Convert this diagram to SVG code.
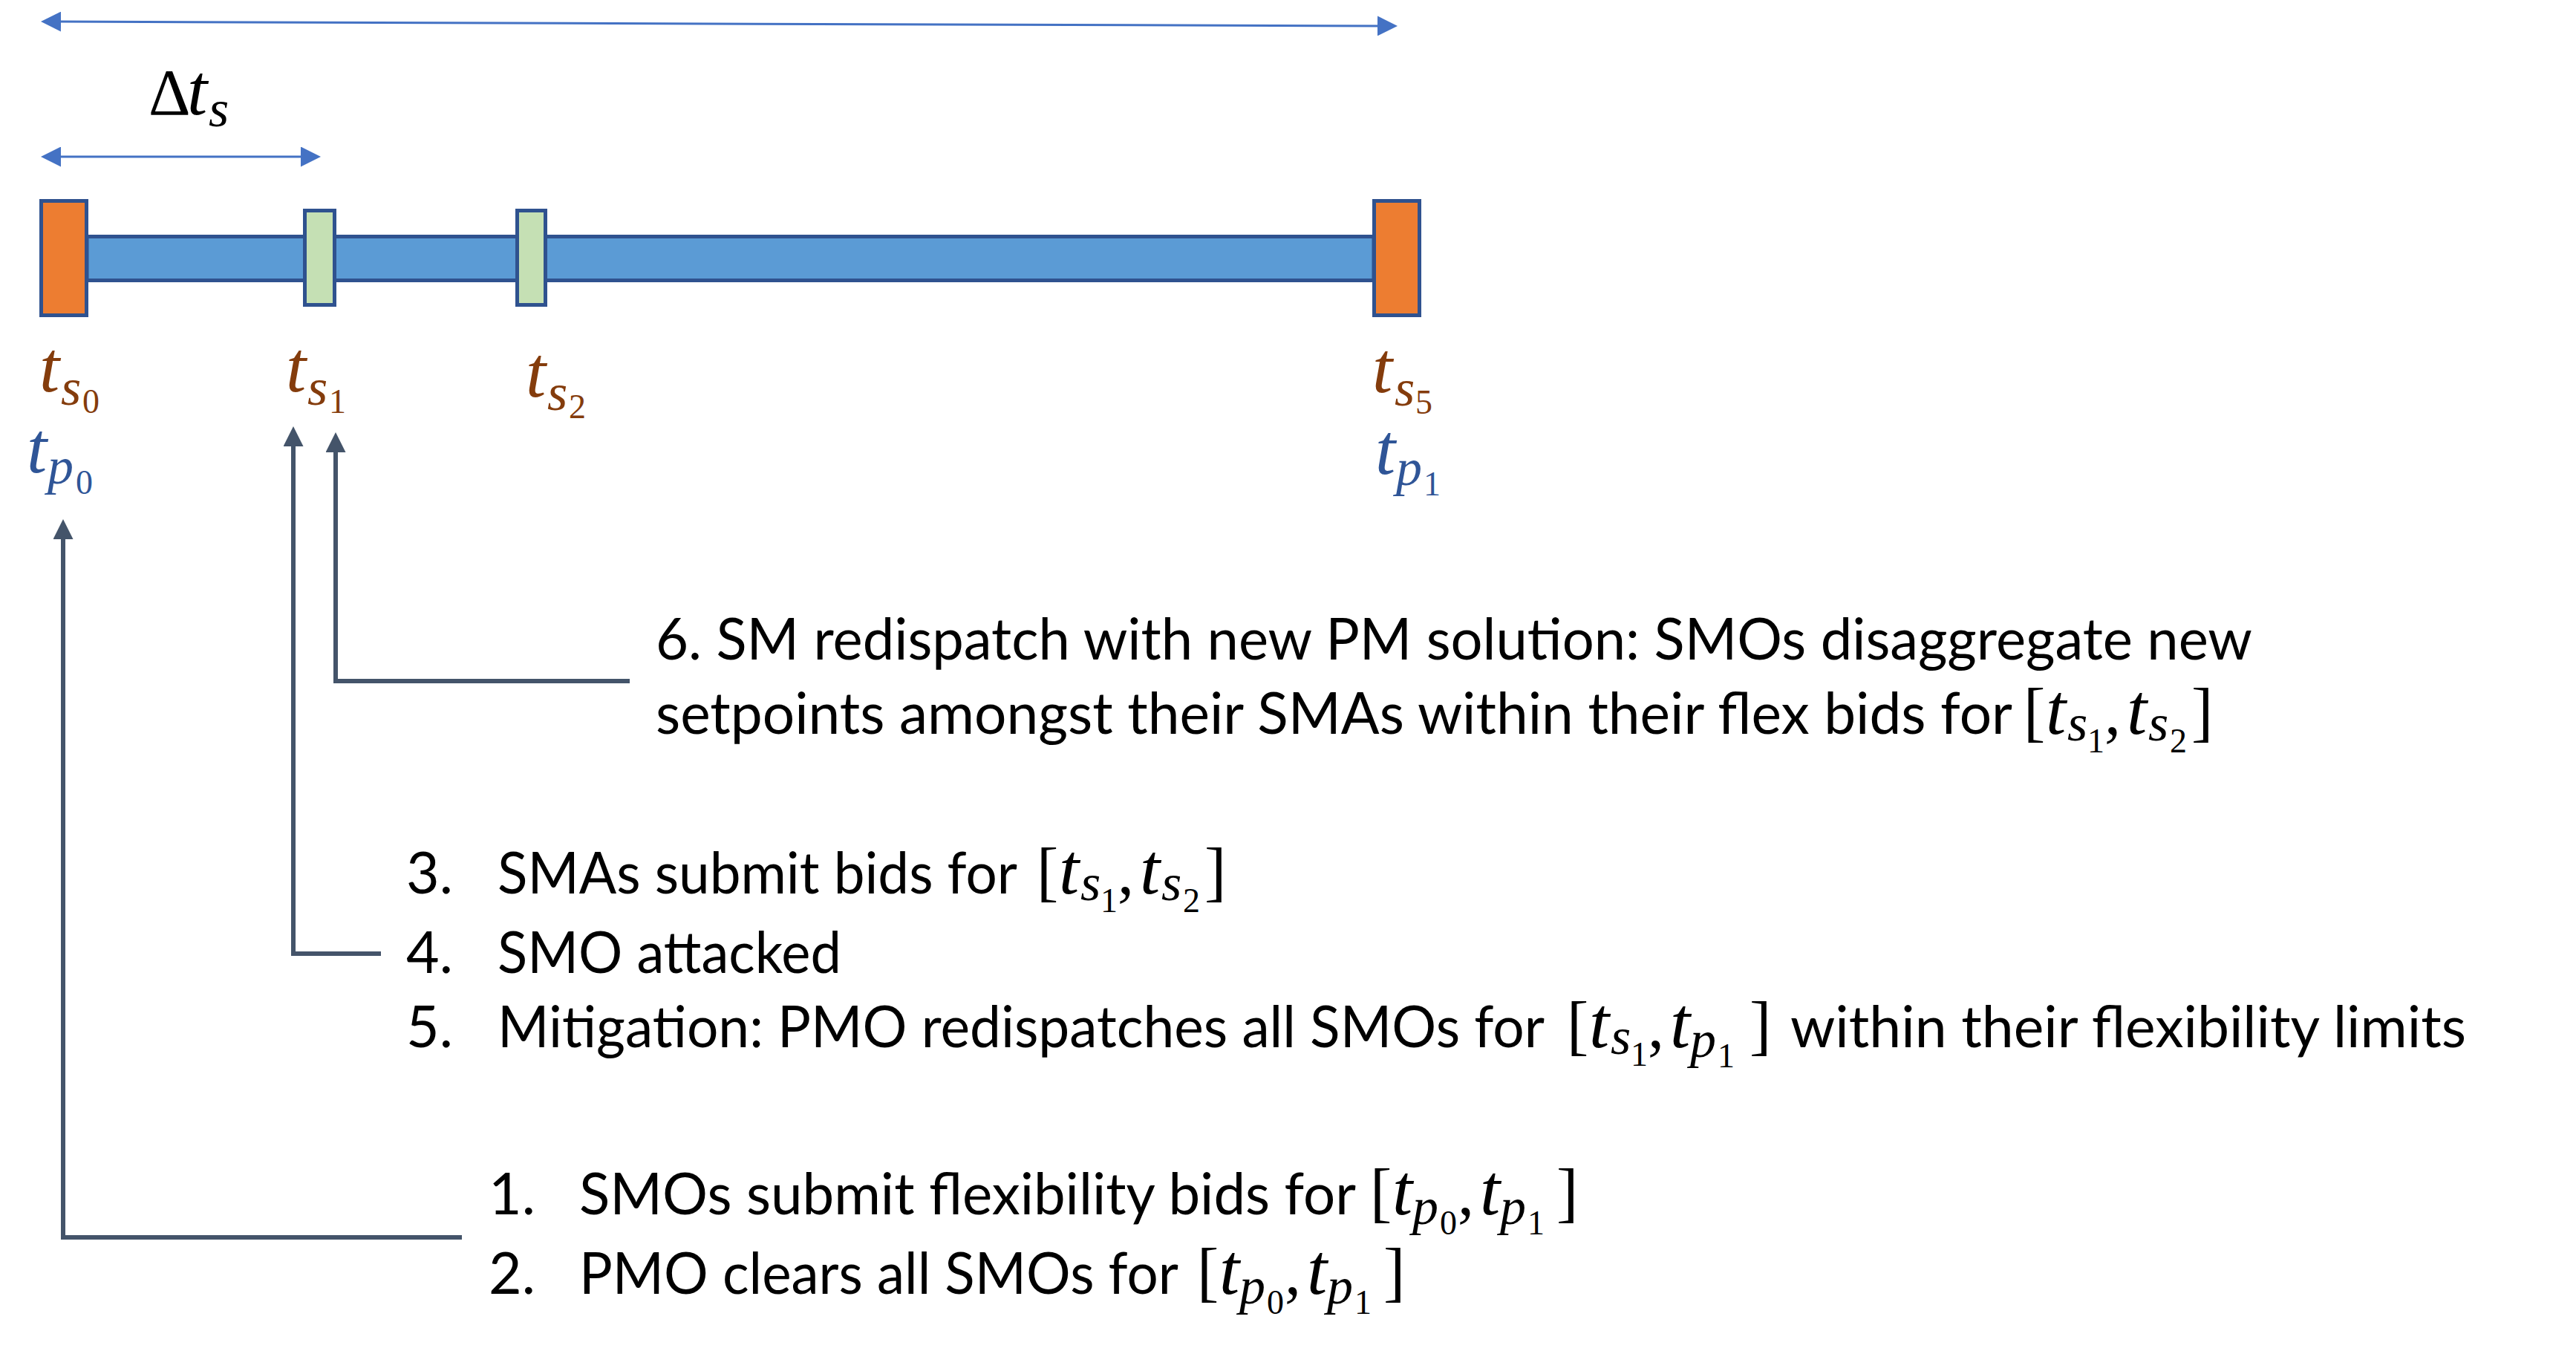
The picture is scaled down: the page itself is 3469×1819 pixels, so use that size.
<svg xmlns="http://www.w3.org/2000/svg" width="3469" height="1819" viewBox="0 0 3469 1819">
<style>
.tx{font-family:Lato,"Liberation Sans",sans-serif;font-size:77px;fill:#000}
.mt{font-family:"Liberation Serif",serif;font-style:italic;font-size:98px}
.mb{font-family:"Liberation Serif",serif;font-style:normal;font-size:88px}
.ms{font-family:"Liberation Serif",serif;font-style:italic;font-size:70px}
.md{font-family:"Liberation Serif",serif;font-style:normal;font-size:46px}
.brown{fill:#843C0C}
.blue{fill:#2F5597}
.blk{fill:#000}
.or{fill:#ED7D31;stroke:#2F528F;stroke-width:5}
.gr{fill:#C5E0B4;stroke:#2F528F;stroke-width:5}
.bar{fill:#5B9BD5;stroke:#2F528F;stroke-width:5}
.conn{fill:none;stroke:#44546A;stroke-width:6;marker-end:url(#ah)}
.dim{fill:none;stroke:#4472C4;stroke-width:3;marker-start:url(#bh);marker-end:url(#bh)}
</style>
<defs>
<marker id="ah" markerUnits="userSpaceOnUse" markerWidth="27" markerHeight="27" refX="7" refY="13.5" orient="auto"><path d="M0,0 L27,13.5 L0,27 z" fill="#44546A"/></marker>
<marker id="bh" markerUnits="userSpaceOnUse" markerWidth="27" markerHeight="27" refX="7" refY="13.5" orient="auto-start-reverse"><path d="M0,0 L27,13.5 L0,27 z" fill="#4472C4"/></marker>
</defs>

<g id="dimensions">
<path class="dim" d="M75,29.1 L1862,34.9"/>
<path class="dim" d="M75,211 L412,211"/>
<text id="delta-ts" class="blk"><tspan class="mb" x="200" y="154">Δ</tspan><tspan class="mt" x="252" y="154">t</tspan><tspan class="ms" x="281" y="170">s</tspan></text>
</g>

<g id="timeline">
<rect class="bar" x="117" y="318.5" width="1733" height="59"/>
<rect id="ts0-block" class="or" x="55.5" y="270.5" width="61" height="154"/>
<rect id="ts1-block" class="gr" x="410.5" y="283.5" width="40" height="127"/>
<rect id="ts2-block" class="gr" x="696.5" y="283.5" width="38" height="127"/>
<rect id="ts5-block" class="or" x="1850.5" y="270.5" width="61" height="154"/>
</g>

<g id="time-labels">
<text id="lbl-ts0" class="brown"><tspan class="mt" x="53" y="527">t</tspan><tspan class="ms" x="82" y="545">s</tspan><tspan class="md" x="111" y="556">0</tspan></text>
<text id="lbl-ts1" class="brown"><tspan class="mt" x="385" y="527">t</tspan><tspan class="ms" x="414" y="545">s</tspan><tspan class="md" x="443" y="556">1</tspan></text>
<text id="lbl-ts2" class="brown"><tspan class="mt" x="708" y="534">t</tspan><tspan class="ms" x="737" y="552">s</tspan><tspan class="md" x="766" y="563">2</tspan></text>
<text id="lbl-ts5" class="brown"><tspan class="mt" x="1848" y="528">t</tspan><tspan class="ms" x="1878" y="546">s</tspan><tspan class="md" x="1906" y="557">5</tspan></text>
<text id="lbl-tp0" class="blue"><tspan class="mt" x="36" y="636">t</tspan><tspan class="ms" x="64" y="651">p</tspan><tspan class="md" x="102" y="665">0</tspan></text>
<text id="lbl-tp1" class="blue"><tspan class="mt" x="1852" y="638">t</tspan><tspan class="ms" x="1880" y="653">p</tspan><tspan class="md" x="1917" y="667">1</tspan></text>
</g>

<g id="connectors">
<path class="conn" d="M622,1666 H85 V719"/>
<path class="conn" d="M513,1284 H395 V594"/>
<path class="conn" d="M848,917 H452 V602"/>
</g>

<g id="step6">
<text class="tx" x="883" y="888" textLength="2150" lengthAdjust="spacingAndGlyphs">6. SM redispatch with new PM solution: SMOs disaggregate new</text>
<text class="tx" y="988"><tspan x="883" textLength="1827" lengthAdjust="spacingAndGlyphs">setpoints amongst their SMAs within their flex bids for</tspan><tspan class="mb" x="2725">[</tspan><tspan class="mt" x="2755">t</tspan><tspan class="ms" x="2784" y="997">s</tspan><tspan class="md" x="2811" y="1013">1</tspan><tspan class="mb" x="2834" y="988">,</tspan><tspan class="mt" x="2864">t</tspan><tspan class="ms" x="2893" y="997">s</tspan><tspan class="md" x="2922" y="1013">2</tspan><tspan class="mb" x="2951" y="988">]</tspan></text>
</g>

<g id="steps3-5">
<text class="tx" x="547" y="1203">3.</text>
<text class="tx" y="1203"><tspan x="670" textLength="700" lengthAdjust="spacingAndGlyphs">SMAs submit bids for</tspan><tspan class="mb" x="1396">[</tspan><tspan class="mt" x="1426">t</tspan><tspan class="ms" x="1455" y="1212">s</tspan><tspan class="md" x="1482" y="1228">1</tspan><tspan class="mb" x="1505" y="1203">,</tspan><tspan class="mt" x="1535">t</tspan><tspan class="ms" x="1564" y="1212">s</tspan><tspan class="md" x="1593" y="1228">2</tspan><tspan class="mb" x="1622" y="1203">]</tspan></text>
<text class="tx" x="547" y="1310">4.</text>
<text class="tx" x="670" y="1310" textLength="463" lengthAdjust="spacingAndGlyphs">SMO attacked</text>
<text class="tx" x="547" y="1410">5.</text>
<text class="tx" y="1410"><tspan x="670" textLength="1410" lengthAdjust="spacingAndGlyphs">Mitigation: PMO redispatches all SMOs for</tspan><tspan class="mb" x="2110">[</tspan><tspan class="mt" x="2140">t</tspan><tspan class="ms" x="2169" y="1419">s</tspan><tspan class="md" x="2196" y="1435">1</tspan><tspan class="mb" x="2219" y="1410">,</tspan><tspan class="mt" x="2249">t</tspan><tspan class="ms" x="2276" y="1423">p</tspan><tspan class="md" x="2313" y="1437">1</tspan><tspan class="mb" x="2356" y="1410">]</tspan><tspan x="2411" textLength="910" lengthAdjust="spacingAndGlyphs">within their flexibility limits</tspan></text>
</g>

<g id="steps1-2">
<text class="tx" x="658" y="1635">1.</text>
<text class="tx" y="1635"><tspan x="780" textLength="1046" lengthAdjust="spacingAndGlyphs">SMOs submit flexibility bids for</tspan><tspan class="mb" x="1845">[</tspan><tspan class="mt" x="1875">t</tspan><tspan class="ms" x="1902" y="1648">p</tspan><tspan class="md" x="1939" y="1662">0</tspan><tspan class="mb" x="1963" y="1635">,</tspan><tspan class="mt" x="1993">t</tspan><tspan class="ms" x="2020" y="1648">p</tspan><tspan class="md" x="2057" y="1662">1</tspan><tspan class="mb" x="2096" y="1635">]</tspan></text>
<text class="tx" x="658" y="1742">2.</text>
<text class="tx" y="1742"><tspan x="780" textLength="807" lengthAdjust="spacingAndGlyphs">PMO clears all SMOs for</tspan><tspan class="mb" x="1612">[</tspan><tspan class="mt" x="1642">t</tspan><tspan class="ms" x="1669" y="1755">p</tspan><tspan class="md" x="1706" y="1769">0</tspan><tspan class="mb" x="1730" y="1742">,</tspan><tspan class="mt" x="1760">t</tspan><tspan class="ms" x="1787" y="1755">p</tspan><tspan class="md" x="1824" y="1769">1</tspan><tspan class="mb" x="1863" y="1742">]</tspan></text>
</g>
</svg>
